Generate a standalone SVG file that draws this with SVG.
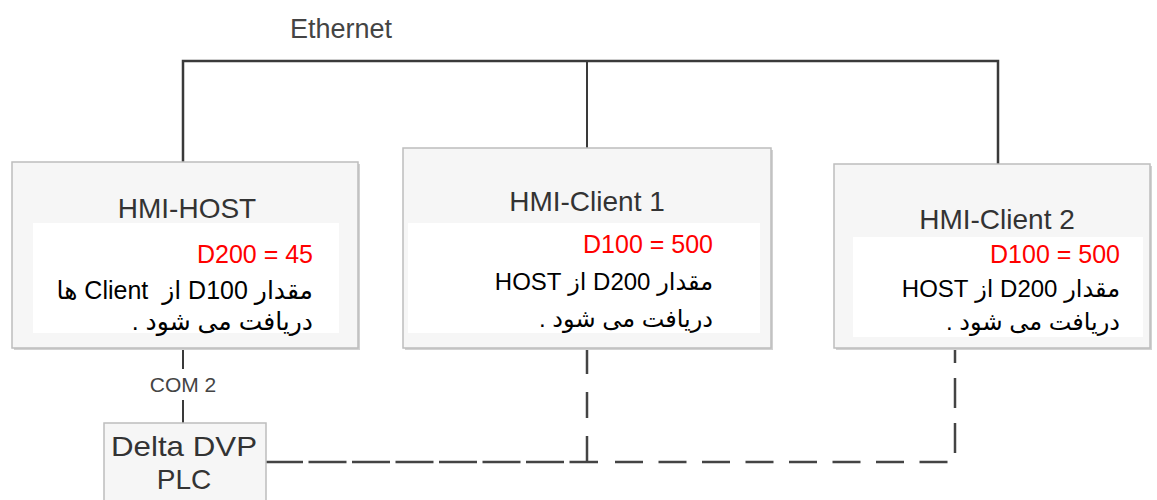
<svg xmlns="http://www.w3.org/2000/svg" width="1157" height="500" viewBox="0 0 1157 500">
<style>
.box{fill:#f6f6f6;stroke:#bdbdbd;stroke-width:1.5}
.shadow{fill:#d2d2d2}
.panel{fill:#ffffff}
.title{font-family:"Liberation Sans",Arial,sans-serif;font-size:28px;fill:#333;text-anchor:middle}
.lbl{font-family:"Liberation Sans",Arial,sans-serif;fill:#444;text-anchor:middle}
.red{font-family:"Liberation Sans","DejaVu Sans",sans-serif;font-size:25px;fill:#ff0000;text-anchor:end}
.rtl{font-family:"Liberation Sans","DejaVu Sans",sans-serif;font-size:24px;fill:#000;direction:rtl;text-anchor:start}
.eth{fill:none;stroke:#3a3a3a;stroke-width:2.5}
.solid{fill:none;stroke:#3a3a3a;stroke-width:2}
.dash{fill:none;stroke:#444;stroke-width:2.5}
</style>
<text class="lbl" x="341" y="38" style="font-size:27px">Ethernet</text>
<g id="connectors">
<path class="eth" d="M183,162 V61 H998 V164"/>
<path class="solid" d="M587,61 V148"/>
<path class="solid" d="M183,348 V369 M183,400 V423"/>
<path class="dash" d="M265,462 H598" stroke-dasharray="38 5.5"/>
<path class="dash" d="M615,462 H950" stroke-dasharray="28 15.5"/>
<path class="dash" d="M587,462 V348" stroke-dasharray="26 18"/>
<path class="dash" d="M955,453 V343" stroke-dasharray="30 15"/>
</g>
<text class="lbl" x="183" y="392" style="font-size:21px">COM 2</text>
<g id="hmi-host">
<rect class="shadow" x="14" y="164" width="346" height="186"/>
<rect class="box" x="12" y="162" width="346" height="186"/>
<rect class="panel" x="33" y="223" width="306" height="110"/>
<text class="title" x="187" y="218">HMI-HOST</text>
<text class="red" x="313" y="263">D200 = 45</text>
<text class="rtl" x="313" y="299" style="font-size:25px">مقدار D100 از&#160; Client ها</text>
<text class="rtl" x="313" y="330" style="font-size:25px">دریافت می شود .</text>
</g>
<g id="hmi-client-1">
<rect class="shadow" x="405" y="150" width="368" height="200"/>
<rect class="box" x="403" y="148" width="368" height="200"/>
<rect class="panel" x="408" y="223" width="352" height="110"/>
<text class="title" x="587" y="211">HMI-Client 1</text>
<text class="red" x="713" y="253">D100 = 500</text>
<text class="rtl" x="713" y="290">مقدار D200 از HOST</text>
<text class="rtl" x="713" y="327">دریافت می شود .</text>
</g>
<g id="hmi-client-2">
<rect class="shadow" x="836" y="166" width="316" height="184"/>
<rect class="box" x="834" y="164" width="316" height="184"/>
<rect class="panel" x="853" y="237" width="290" height="100"/>
<text class="title" x="997" y="229">HMI-Client 2</text>
<text class="red" x="1120" y="263">D100 = 500</text>
<text class="rtl" x="1120" y="297">مقدار D200 از HOST</text>
<text class="rtl" x="1120" y="330">دریافت می شود .</text>
</g>
<g id="plc">
<rect class="box" x="104" y="423" width="162" height="80"/>
<text class="title" x="184" y="456" textLength="146" lengthAdjust="spacingAndGlyphs">Delta DVP</text>
<text class="title" x="184" y="489">PLC</text>
</g>
</svg>
